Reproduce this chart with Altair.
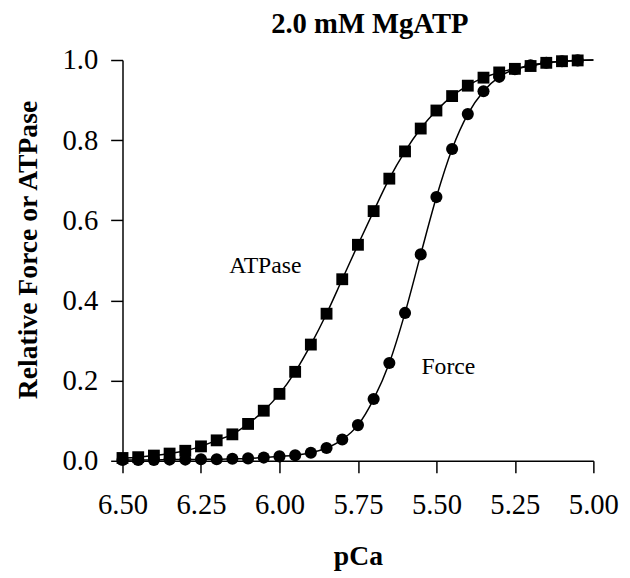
import altair as alt
import pandas as pd

pca = [6.50, 6.45, 6.40, 6.35, 6.30, 6.25, 6.20, 6.15, 6.10, 6.05,
       6.00, 5.95, 5.90, 5.85, 5.80, 5.75, 5.70, 5.65, 5.60, 5.55,
       5.50, 5.45, 5.40, 5.35, 5.30, 5.25, 5.20, 5.15, 5.10, 5.05]
atpase = [0.007, 0.009, 0.013, 0.018, 0.025, 0.036, 0.051, 0.066, 0.092, 0.125,
          0.167, 0.222, 0.290, 0.367, 0.453, 0.539, 0.623, 0.704, 0.772, 0.829,
          0.874, 0.910, 0.936, 0.956, 0.969, 0.978, 0.985, 0.993, 0.997, 0.999]
force = [0.002, 0.002, 0.002, 0.003, 0.003, 0.004, 0.004, 0.005, 0.006, 0.008,
         0.011, 0.014, 0.020, 0.032, 0.053, 0.089, 0.154, 0.244, 0.369, 0.515,
         0.658, 0.778, 0.865, 0.922, 0.958, 0.977, 0.987, 0.993, 0.997, 0.999]
# curve end at right edge of the axis
curve_end_pca = 5.00
curve_end_val = 1.0

x_ticks = [6.50, 6.25, 6.00, 5.75, 5.50, 5.25, 5.00]
y_ticks = [0.0, 0.2, 0.4, 0.6, 0.8, 1.0]

label_text = ["ATPase", "Force"]
label_pca = [6.045, 5.462]
label_val = [0.485, 0.235]

FONT = "Liberation Serif"

pts = pd.DataFrame({
    "pCa": pca * 2,
    "value": atpase + force,
    "series": ["ATPase"] * len(pca) + ["Force"] * len(pca),
})
lines = pd.DataFrame({
    "pCa": pca + [curve_end_pca] + pca + [curve_end_pca],
    "value": atpase + [curve_end_val] + force + [curve_end_val],
    "series": ["ATPase"] * (len(pca) + 1) + ["Force"] * (len(pca) + 1),
})
labels = pd.DataFrame({"text": label_text, "pCa": label_pca, "value": label_val})

xscale = alt.Scale(domain=[5.0, 6.5], reverse=True, nice=False, zero=False)
yscale = alt.Scale(domain=[0, 1], nice=False)

xenc = alt.X("pCa:Q", scale=xscale,
             axis=alt.Axis(values=x_ticks, format=".2f", title="pCa",
                           grid=False, tickSize=12, labelPadding=18,
                           labelFlush=False, labelOverlap=False,
                           titlePadding=24))
yenc = alt.Y("value:Q", scale=yscale,
             axis=alt.Axis(values=y_ticks, format=".1f",
                           title="Relative Force or ATPase",
                           grid=False, tickSize=12, labelPadding=13,
                           labelFlush=False, labelOverlap=False,
                           titlePadding=20, titleY=192))

line_layer = alt.Chart(lines).mark_line(
    color="black", strokeWidth=1.5, interpolate="monotone"
).encode(x=xenc, y=yenc, detail="series:N")

sq_layer = alt.Chart(pts).transform_filter(
    alt.datum.series == "ATPase"
).mark_point(shape="square", filled=True, color="black", size=144, opacity=1).encode(
    x="pCa:Q", y="value:Q")

ci_layer = alt.Chart(pts).transform_filter(
    alt.datum.series == "Force"
).mark_point(shape="circle", filled=True, color="black", size=150, opacity=1).encode(
    x="pCa:Q", y="value:Q")

txt_layer = alt.Chart(labels).mark_text(
    font=FONT, fontSize=24, color="black", align="center", baseline="middle"
).encode(x="pCa:Q", y="value:Q", text="text:N")

chart = alt.layer(line_layer, sq_layer, ci_layer, txt_layer).properties(
    width=477, height=406,
    autosize=alt.AutoSizeParams(type="none"),
    padding={"left": 116, "top": 49, "right": 29, "bottom": 112},
    title=alt.TitleParams("2.0 mM MgATP", font=FONT, fontSize=29,
                          fontWeight="bold", anchor="middle", dx=12,
                          offset=7, color="black"),
).configure_view(stroke=None).configure_axis(
    labelFont=FONT, labelFontSize=29, labelColor="black",
    titleFont=FONT, titleFontSize=28, titleFontWeight="bold", titleColor="black",
    domainColor="black", domainWidth=1.5, tickColor="black", tickWidth=1.5,
)

chart.save("out.html", embed_options={"renderer": "svg", "actions": False})
